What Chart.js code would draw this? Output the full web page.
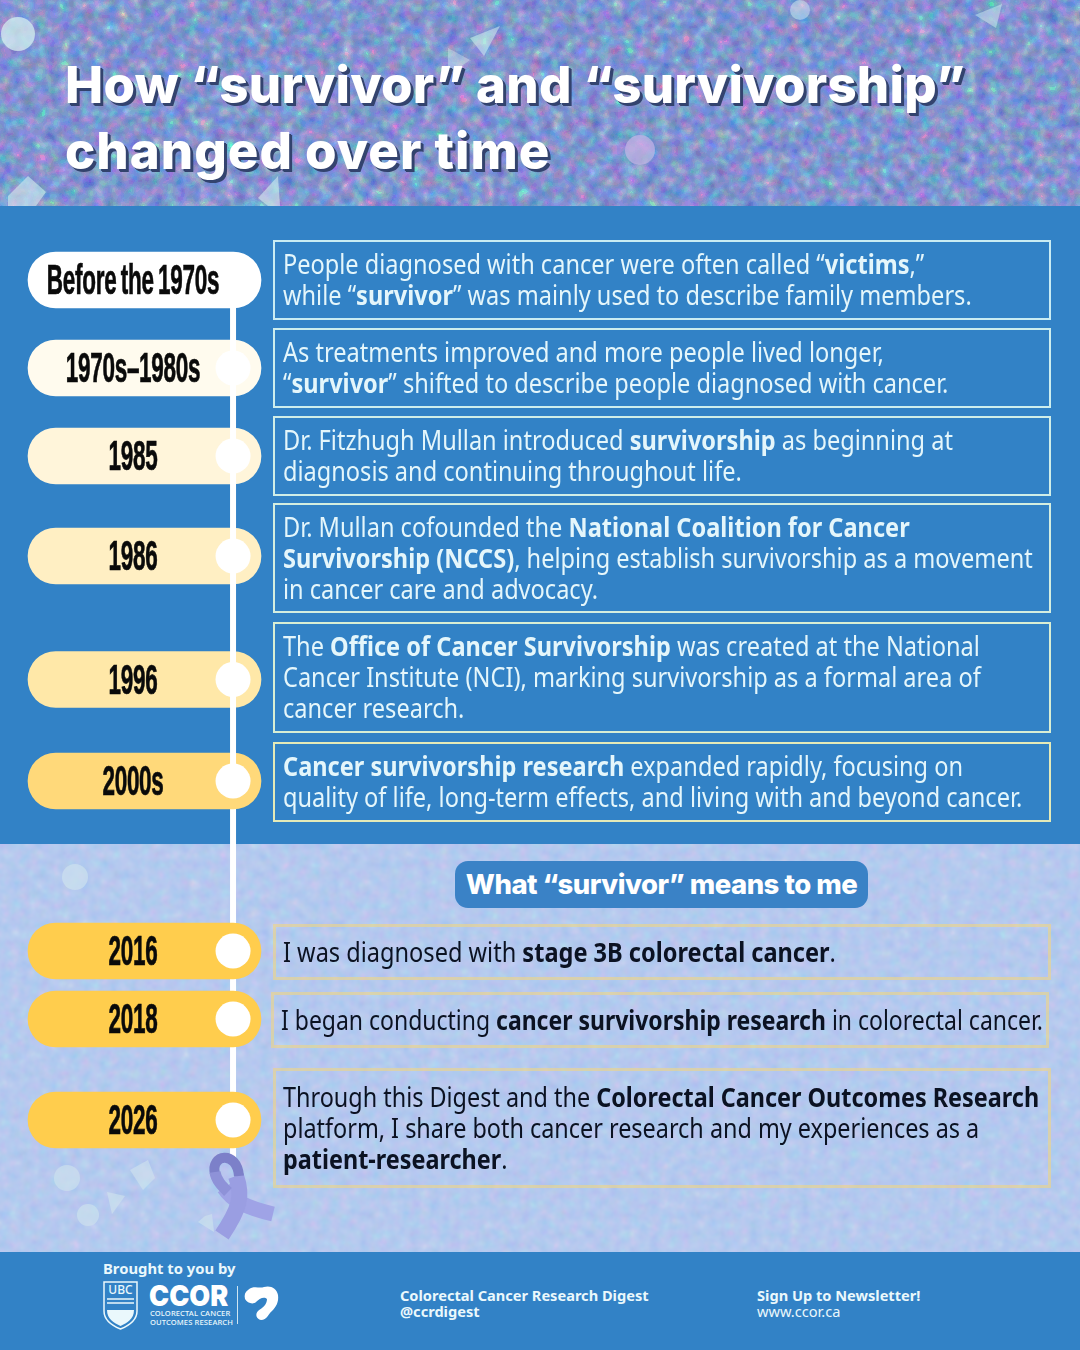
<!DOCTYPE html>
<html>
<head>
<meta charset="utf-8">
<title>How survivor and survivorship changed over time</title>
<script src="https://cdn.jsdelivr.net/npm/chart.js@4"></script>
<style>
  html, body { margin: 0; padding: 0; }
  body { width: 1080px; height: 1350px; position: relative; overflow: hidden; background: #3282c6; font-family: "Noto Sans", sans-serif; }
  .abs { position: absolute; }
  #textura { position: absolute; left: 0; top: 0; width: 1080px; height: 1350px; }
  #faixaAzul { position: absolute; left: 0; top: 206px; width: 1080px; height: 638px; background: #3282c6; }
  #rodape { position: absolute; left: 0; top: 1252px; width: 1080px; height: 98px; background: #3282c6; color: #eaf8fc; }
  #grafico { position: absolute; left: 0; top: 0; }
  h1 { position: absolute; left: 65px; top: 52px; margin: 0; font: 800 51px/66px Inter, sans-serif; color: #fff; letter-spacing: .25px; white-space: nowrap; text-shadow: 3px 3px 0 #33436e, 2px 2px 0 #33436e; }
  .card { position: absolute; left: 273px; width: 778px; box-sizing: border-box; border: 2px solid #c9ecf3; display: flex; align-items: center; padding-left: 8px; font-size: 26.6px; line-height: 31px; color: #e4f6fb; white-space: nowrap; }
  .card span { display: block; transform-origin: left center; transform: scaleX(.886); }
  .card.eu { border: 3px solid rgba(240, 214, 130, .6); color: #0b1222; padding-left: 7px; }
  .tag { position: absolute; width: 340px; text-align: center; font: 700 42px/42px "Liberation Sans Narrow", sans-serif; color: #0a0a0a; letter-spacing: -.5px; word-spacing: -3px; transform: translate(-50%, -50%) scaleX(.535); white-space: nowrap; -webkit-text-stroke: .7px #0a0a0a; }
  #subtitulo { position: absolute; left: 455px; top: 861px; width: 413px; height: 47px; background: #3a82c6; border-radius: 13px; color: #fff; font: 800 27.5px/46px Inter, sans-serif; text-align: center; white-space: nowrap; letter-spacing: -.5px; }
</style>
</head>
<body>

<svg id="textura" viewBox="0 0 1080 1350">
  <defs>
    <filter id="glitter" x="0" y="0" width="100%" height="100%" color-interpolation-filters="sRGB">
      <feTurbulence type="fractalNoise" baseFrequency="0.085" numOctaves="2" seed="7"/>
      <feComponentTransfer>
        <feFuncR type="discrete" tableValues=".28 .32 .38 .44 .48 .53 .6 .68 .85 .98"/>
        <feFuncG type="discrete" tableValues=".38 .44 .48 .54 .56 .6 .66 .72 .86 .98"/>
        <feFuncB type="discrete" tableValues=".66 .7 .74 .78 .8 .83 .86 .88 .94 1"/>
        <feFuncA type="linear" slope="0" intercept="1"/>
      </feComponentTransfer>
      <feGaussianBlur stdDeviation=".6"/>
    </filter>
    <filter id="glitterClaro" x="0" y="0" width="100%" height="100%" color-interpolation-filters="sRGB">
      <feTurbulence type="fractalNoise" baseFrequency="0.1" numOctaves="3" seed="3"/>
      <feComponentTransfer>
        <feFuncR type="discrete" tableValues=".62 .66 .69 .71 .73 .77 .82"/>
        <feFuncG type="discrete" tableValues=".74 .76 .78 .79 .8 .83 .87"/>
        <feFuncB type="discrete" tableValues=".9 .92 .93 .94 .94 .95 .96"/>
        <feFuncA type="linear" slope="0" intercept="1"/>
      </feComponentTransfer>
      <feGaussianBlur stdDeviation=".8"/>
    </filter>
  </defs>
  <rect x="-10" y="-10" width="1100" height="226" filter="url(#glitter)"/>
  <rect x="-10" y="834" width="1100" height="428" filter="url(#glitterClaro)"/>
  <!-- brilhos do topo -->
  <g fill="#d5f0f0">
    <circle cx="18" cy="34" r="17" opacity=".75"/>
    <circle cx="640" cy="150" r="15" fill="#c7b5e6" opacity=".7"/>
    <circle cx="800" cy="10" r="10" opacity=".5"/>
    <path d="M470 38 L500 26 L484 56Z" opacity=".55"/>
    <path d="M448 48 L470 60 L448 76Z" opacity=".4"/>
    <path d="M8 196 L28 176 L46 192 L36 206 L8 206Z" opacity=".6"/>
    <path d="M258 198 L278 176 L280 206 L268 206Z" opacity=".6"/>
    <path d="M975 15 L1002 4 L996 28Z" opacity=".5"/>
  </g>
  <!-- brilhos da parte clara -->
  <g fill="#cfe3ee" opacity=".65">
    <circle cx="75" cy="877" r="13"/>
    <circle cx="67" cy="1178" r="13"/>
    <circle cx="88" cy="1215" r="11"/>
    <path d="M130 1170 L148 1160 L155 1178 L143 1190Z"/>
    <path d="M107 1192 L125 1196 L112 1214Z"/>
    <path d="M205 1216 L212 1214 L214 1232 L198 1222Z"/>
  </g>
</svg>

<div id="faixaAzul"></div>

<h1>How “survivor” and “survivorship”<br><span style="letter-spacing:1px">changed over time</span></h1>
<div id="subtitulo">What “survivor” means to me</div>

<div class="card" style="top:240px;height:80px"><span>People diagnosed with cancer were often called “<b>victims</b>,”<br>while “<b>survivor</b>” was mainly used to describe family members.</span></div>
<div class="card" style="top:328px;height:80px;border-color:#cdeeee"><span>As treatments improved and more people lived longer,<br>“<b>survivor</b>” shifted to describe people diagnosed with cancer.</span></div>
<div class="card" style="top:416px;height:80px;border-color:#d0eee8"><span>Dr. Fitzhugh Mullan introduced <b>survivorship</b> as beginning at<br>diagnosis and continuing throughout life.</span></div>
<div class="card" data-ajuste="-2" style="top:503px;height:110px;border-color:#d4eee0"><span>Dr. Mullan cofounded the <b>National Coalition for Cancer<br>Survivorship (NCCS)</b>, helping establish survivorship as a movement<br>in cancer care and advocacy.</span></div>
<div class="card" data-ajuste="2" style="top:622px;height:111px;border-color:#d8eed4"><span>The <b>Office of Cancer Survivorship</b> was created at the National<br>Cancer Institute (NCI), marking survivorship as a formal area of<br>cancer research.</span></div>
<div class="card" data-ajuste="-1" style="top:742px;height:80px;border-color:#e4eab8"><span><b>Cancer survivorship research</b> expanded rapidly, focusing on<br>quality of life, long-term effects, and living with and beyond cancer.</span></div>
<div class="card eu" data-ajuste="-1" style="top:924px;height:56px"><span>I was diagnosed with <b>stage 3B colorectal cancer</b>.</span></div>
<div class="card eu" data-ajuste="-1" style="top:992px;height:56px;left:271px"><span style="transform:scaleX(.864)">I began conducting <b>cancer survivorship research</b> in colorectal cancer.</span></div>
<div class="card eu" data-ajuste="-8" style="top:1068px;height:120px"><span style="transform:scaleX(.88)">Through this Digest and the <b>Colorectal Cancer Outcomes Research</b><br>platform, I share both cancer research and my experiences as a<br><b>patient-researcher</b>.</span></div>

<canvas id="grafico" width="270" height="1350"></canvas>

<!-- fita no fim da linha do tempo -->
<svg id="fita" class="abs" style="left:200px;top:1150px" width="80" height="95" viewBox="0 0 80 95">
  <path d="M24 38 C32 50 44 57 73 64" fill="none" stroke="#9fa3e6" stroke-width="15"/>
  <path d="M36 26 C43 46 40 58 22 85" fill="none" stroke="#9a9ee2" stroke-width="16"/>
  <path d="M15 24 C10 4 37 0 39 26" fill="none" stroke="#7c80c9" stroke-width="10"/>
  <path d="M15 22 C16 30 22 36 28 42" fill="none" stroke="#8e92d8" stroke-width="11"/>
</svg>

<div id="rodape">
  <div class="abs" style="left:103px;top:6px;font:700 14.8px/20px 'Noto Sans'">Brought to you by</div>
  <svg class="abs" style="left:103px;top:29px" width="35" height="49" viewBox="0 0 35 49">
    <path d="M1 1 H34 V30 C34 40 25 45 17.5 48 C10 45 1 40 1 30Z" fill="none" stroke="#eaf8fc" stroke-width="1.5"/>
    <path d="M4 29 H31 C31 38 24 42 17.5 45 C11 42 4 38 4 29Z" fill="#eaf8fc"/>
    <path d="M4 18 H31 M4 22 H31" stroke="#eaf8fc" stroke-width="1.5"/>
    <text x="17.5" y="13" font-family="Noto Sans" font-size="12" font-weight="500" text-anchor="middle" fill="#eaf8fc">UBC</text>
  </svg>
  <div class="abs" style="left:149px;top:27px;font:900 29px/34px Inter,sans-serif;color:#fff;transform-origin:left center;transform:scaleX(.93)">CCOR</div>
  <div class="abs" style="left:150px;top:57px;font:500 7.6px/8.5px 'Noto Sans';letter-spacing:.1px;white-space:nowrap">COLORECTAL CANCER<br>OUTCOMES RESEARCH</div>
  <div class="abs" style="left:237px;top:34px;width:1px;height:38px;background:#cfe6f2"></div>
  <svg class="abs" style="left:244px;top:33px" width="35" height="37" viewBox="0 0 35 37">
    <path d="M4 5 C10 0 15 4 20 2 C26 0 33 3 34 10 C35 17 32 22 28 26 C24 29 23 35 17 35 C12 34 11 29 14 26 C18 23 23 20 23 14 C20 11 15 14 12 17 C9 20 3 18 1 14 C0 10 1 7 4 5Z" fill="#fff"/>
  </svg>
  <div class="abs" style="left:400px;top:36px;font:700 14.6px/15.5px 'Noto Sans';white-space:nowrap">Colorectal Cancer Research Digest<br>@ccrdigest</div>
  <div class="abs" style="left:757px;top:35px;font:700 14.6px/16px 'Noto Sans';white-space:nowrap">Sign Up to Newsletter!<br><span style="font-weight:400">www.ccor.ca</span></div>
</div>

<script>
// rótulos da linha do tempo
const marcos = ["Before the 1970s", "1970s–1980s", "1985", "1986", "1996", "2000s", "2016", "2018", "2026"];
const coresMarcos = ["#ffffff", "#fffbee", "#fff5da", "#ffefc3", "#ffe8a8", "#ffd97a", "#ffcd4d", "#ffcd4d", "#ffcd4d"];
const faixaMarco = [0, 1];   // cada pílula ocupa a coluna toda
const posicaoPonto = 0.88;   // linha e pontos ficam nessa fração da pílula
const posicaoTexto = 0.45;
const ultimoMarcoAzul = 5;   // 2000s

// o eixo y do gráfico é o próprio eixo da página, a linha de cada marco vem do cartão
const linhas = [...document.querySelectorAll(".card")].map(function (card) {
    const r = card.getBoundingClientRect();
    return (r.top + r.bottom) / 2 + Number(card.dataset.ajuste || 0);
});
const fimFita = document.getElementById("fita").getBoundingClientRect().top + 15;

const ctx = document.getElementById("grafico").getContext("2d");

const grafico = new Chart(ctx, {
    type: "scatter",
    data: {
        datasets: [
            { // parte de baixo da linha, atrás das pílulas
                showLine: true,
                data: [...linhas.slice(ultimoMarcoAzul).map(y => ({ x: posicaoPonto, y })), { x: posicaoPonto, y: fimFita }],
                borderColor: "#ffffff",
                borderWidth: 6,
                pointRadius: 0,
                order: 4
            },
            {
                type: "bar",
                indexAxis: "y",
                data: linhas.map(y => ({ x: faixaMarco, y })),
                backgroundColor: coresMarcos,
                borderRadius: 28,
                borderSkipped: false,
                barThickness: 56,
                grouped: false,
                order: 3
            },
            { // parte de cima da linha, na frente das pílulas
                showLine: true,
                data: linhas.slice(0, ultimoMarcoAzul + 1).map(y => ({ x: posicaoPonto, y })),
                borderColor: "#ffffff",
                borderWidth: 6,
                pointRadius: 0,
                order: 2
            },
            {
                data: linhas.map(y => ({ x: posicaoPonto, y })),
                backgroundColor: "#ffffff",
                borderWidth: 0,
                pointRadius: 17.5,
                order: 1
            }
        ]
    },
    options: {
        responsive: false,
        animation: false,
        events: [],
        layout: { padding: 0, autoPadding: false },
        plugins: { legend: { display: false }, tooltip: { enabled: false }, title: { display: false } },
        scales: {
            x: { type: "linear", display: false, min: -28 / 233, max: 242 / 233 },
            y: { type: "linear", display: false, min: 0, max: 1350, reverse: true, offset: false }
        }
    }
});

// os rótulos ficam como texto normal em cima de cada pílula
marcos.forEach(function (marco, i) {
    const tag = document.createElement("div");
    tag.className = "tag";
    tag.textContent = marco;
    tag.style.left = grafico.scales.x.getPixelForValue(posicaoTexto) + "px";
    tag.style.top = grafico.scales.y.getPixelForValue(linhas[i]) + "px";
    document.body.appendChild(tag);
});
</script>
</body>
</html>
